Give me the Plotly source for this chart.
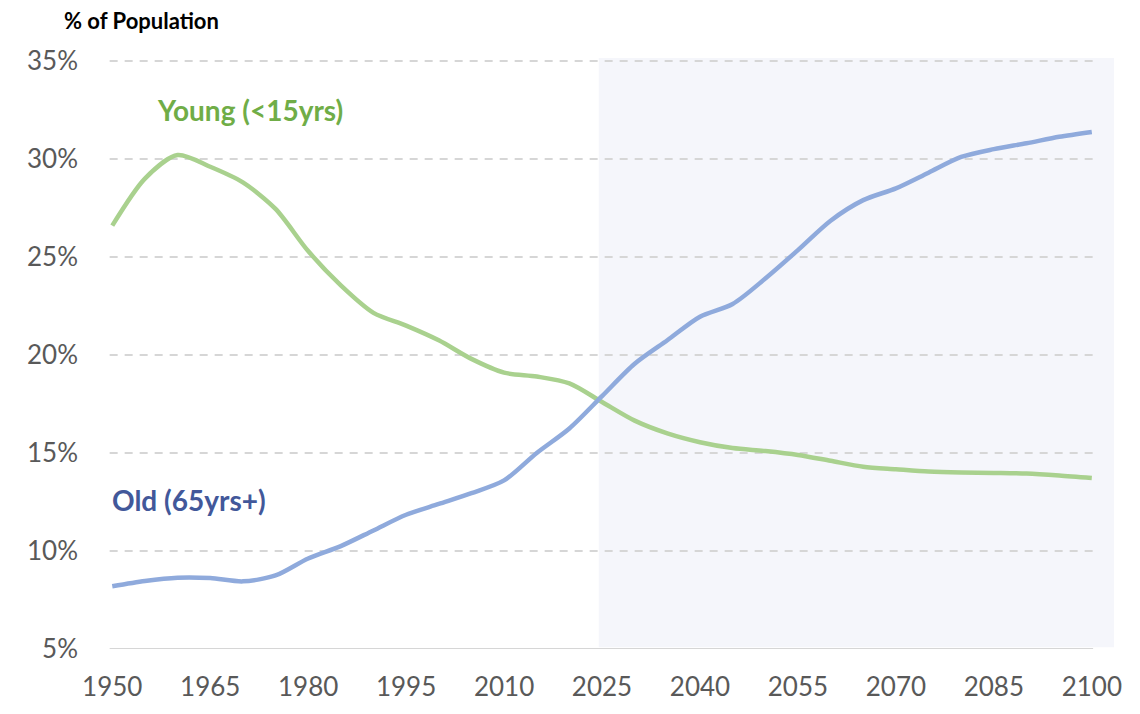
import plotly.graph_objects as go

years = [1950, 1955, 1960, 1965, 1970, 1975, 1980, 1985, 1990, 1995, 2000,
         2005, 2010, 2015, 2020, 2025, 2030, 2035, 2040, 2045, 2050,
         2055, 2060, 2065, 2070, 2075, 2080, 2085, 2090, 2095, 2100]
young = [26.6, 29.0, 30.2, 29.6, 28.8, 27.45, 25.3, 23.55, 22.15, 21.5, 20.75,
         19.8, 19.1, 18.9, 18.55, 17.6, 16.65, 16.0, 15.55, 15.25, 15.1,
         14.9, 14.6, 14.3, 14.17, 14.05, 14.0, 13.98, 13.95, 13.85, 13.72]
old = [8.2, 8.47, 8.64, 8.62, 8.45, 8.75, 9.62, 10.25, 11.05, 11.85, 12.4,
       12.95, 13.6, 15.0, 16.25, 17.9, 19.55, 20.75, 21.95, 22.6, 23.9,
       25.35, 26.85, 27.9, 28.5, 29.3, 30.1, 30.5, 30.8, 31.13, 31.38]
ytick_vals = [5, 10, 15, 20, 25, 30, 35]
ytick_text = ["5%", "10%", "15%", "20%", "25%", "30%", "35%"]
xtick_vals = [1950, 1965, 1980, 1995, 2010, 2025, 2040, 2055, 2070, 2085, 2100]
projection_start = 2024.5

FONT = "Lato"
GREEN_LINE = "#a9d18e"
BLUE_LINE = "#8faadc"
GRID = "#d6d6d6"

fig = go.Figure()
fig.add_trace(go.Scatter(x=years, y=young, mode="lines", name="Young (<15yrs)",
                         line=dict(color=GREEN_LINE, width=4.5, shape="spline", smoothing=0.8),
                         hoverinfo="x+y"))
fig.add_trace(go.Scatter(x=years, y=old, mode="lines", name="Old (65yrs+)",
                         line=dict(color=BLUE_LINE, width=4.5, shape="spline", smoothing=0.8),
                         hoverinfo="x+y"))

shapes = [dict(type="rect", xref="x", yref="paper", x0=projection_start, x1=2103.4,
               y0=0.003, y1=1, fillcolor="#f5f6fb", line=dict(width=0), layer="below")]
for v in ytick_vals:
    shapes.append(dict(type="line", xref="x", yref="y", x0=1949.6, x1=2100.2, y0=v, y1=v,
                       line=dict(color=GRID, width=2,
                                 dash="solid" if v == 5 else "8px,7px"),
                       layer="below"))

annotations = [
    dict(text="% of Population", xref="paper", yref="paper", x=-0.047, y=1.063,
         xanchor="left", yanchor="middle", showarrow=False,
         font=dict(family=FONT, size=22, color="#000000", weight="bold")),
    dict(text="Young (<15yrs)", xref="x", yref="y", x=1956.6, y=32.48,
         xanchor="left", yanchor="middle", showarrow=False,
         font=dict(family=FONT, size=28, color="#70ad47", weight="bold")),
    dict(text="Old (65yrs+)", xref="x", yref="y", x=1949.6, y=12.59,
         xanchor="left", yanchor="middle", showarrow=False,
         font=dict(family=FONT, size=28, color="#42589a", weight="bold")),
]

# page body has an 8px margin; figure sized so plot area lands at target pixels
fig.update_layout(
    width=1124, height=698,
    margin=dict(l=101.4, r=18, t=49.7, b=57.3),
    paper_bgcolor="white", plot_bgcolor="white",
    showlegend=False,
    shapes=shapes, annotations=annotations,
    font=dict(family=FONT, color="#595959"),
)
fig.update_xaxes(range=[1949.5, 2103.4], tickvals=xtick_vals, showgrid=False,
                 zeroline=False, showline=False, ticks="", automargin=False,
                 tickfont=dict(family=FONT, size=26, color="#595959"),
                 ticklabelstandoff=20)
fig.update_yaxes(range=[5, 35.15], tickvals=ytick_vals, ticktext=ytick_text,
                 showgrid=False, zeroline=False, showline=False, ticks="", automargin=False,
                 tickfont=dict(family=FONT, size=26, color="#595959"),
                 ticklabelstandoff=30)

fig.write_html("out.html")
